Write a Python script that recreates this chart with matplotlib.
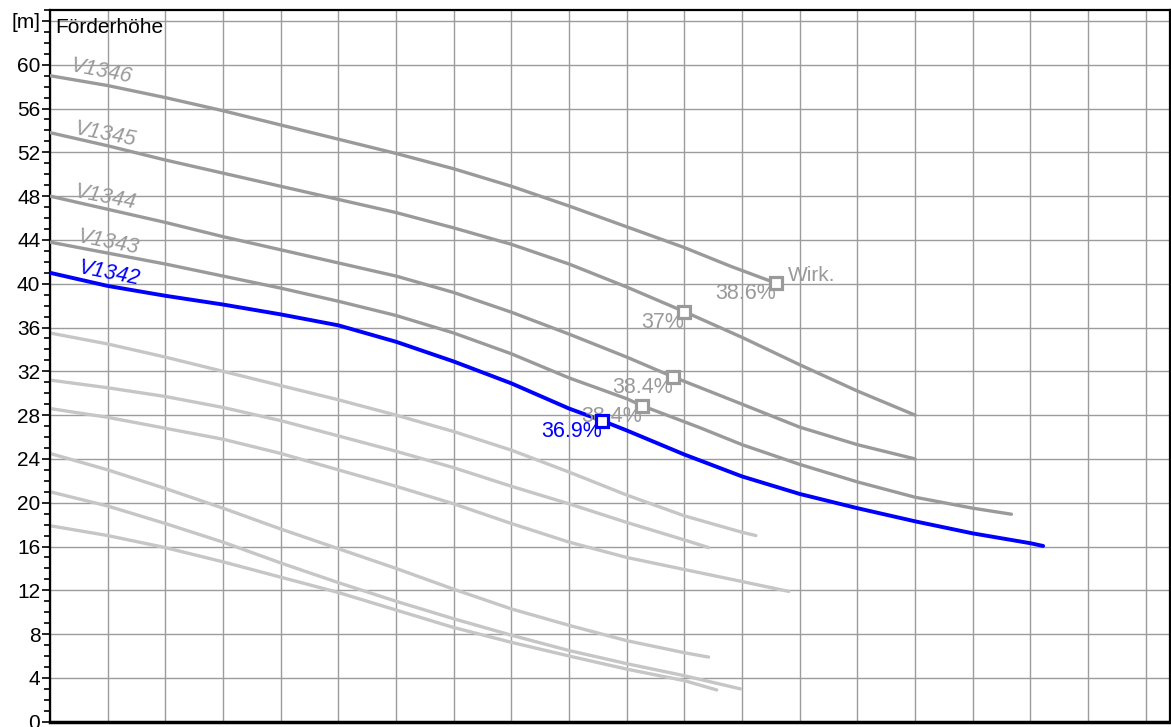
import matplotlib
matplotlib.use("Agg")
import matplotlib.pyplot as plt
from matplotlib.ticker import MultipleLocator

plt.rcParams["font.family"] = ["Liberation Sans", "DejaVu Sans"]

# Pump curves (x in grid units, head in m)
V1346_X = [0, 1, 2, 3, 4, 5, 6, 7, 8, 9, 10, 11, 11.8, 12.59]
V1346_Y = [59.0, 58.1, 57.0, 55.8, 54.5, 53.2, 51.9, 50.5, 48.9, 47.1, 45.2, 43.3, 41.6, 40.05]

V1345_X = [0, 1, 2, 3, 4, 5, 6, 7, 8, 9, 10, 11, 12, 13, 14, 15]
V1345_Y = [53.8, 52.6, 51.3, 50.1, 48.9, 47.7, 46.5, 45.1, 43.6, 41.8, 39.7, 37.45, 35.1, 32.6, 30.2, 28.0]

V1344_X = [0, 1, 2, 3, 4, 5, 6, 7, 8, 9, 10, 10.8, 12, 13, 14, 15]
V1344_Y = [48.0, 46.8, 45.6, 44.3, 43.1, 41.9, 40.7, 39.2, 37.4, 35.4, 33.3, 31.5, 29.0, 26.9, 25.3, 24.0]

V1343_X = [0, 1, 2, 3, 4, 5, 6, 7, 8, 9, 10, 10.27, 11.27, 12, 13, 14, 15, 16, 16.67]
V1343_Y = [43.8, 42.8, 41.8, 40.7, 39.6, 38.4, 37.1, 35.5, 33.6, 31.4, 29.5, 28.85, 26.85, 25.3, 23.5, 21.9, 20.5, 19.5, 18.95]

V1342_X = [0, 1, 2, 3, 4, 5, 6, 7, 8, 9, 9.57, 10, 11, 12, 13, 14, 15, 16, 17, 17.22]
V1342_Y = [41.0, 39.8, 38.9, 38.1, 37.2, 36.2, 34.7, 32.9, 30.9, 28.6, 27.5, 26.6, 24.4, 22.4, 20.8, 19.5, 18.3, 17.2, 16.3, 16.05]

# Other (inactive) curves
L1_X = [0, 1, 2, 3, 4, 5, 6, 7, 8, 9, 10, 11, 12, 12.24]
L1_Y = [35.5, 34.5, 33.3, 32.0, 30.7, 29.4, 28.0, 26.5, 24.8, 22.8, 20.7, 18.8, 17.3, 17.0]
L2_X = [0, 1, 2, 3, 4, 5, 6, 7, 8, 9, 10, 11, 11.42]
L2_Y = [31.2, 30.5, 29.7, 28.7, 27.5, 26.1, 24.7, 23.2, 21.5, 19.9, 18.2, 16.6, 15.9]
L3_X = [0, 1, 2, 3, 4, 5, 6, 7, 8, 9, 10, 11, 12, 12.81]
L3_Y = [28.6, 27.8, 26.8, 25.8, 24.5, 23.0, 21.5, 19.9, 18.1, 16.4, 15.0, 13.9, 12.8, 11.9]
L4_X = [0, 1, 2, 3, 4, 5, 6, 7, 8, 9, 10, 11, 11.42]
L4_Y = [24.5, 23.0, 21.3, 19.5, 17.6, 15.8, 14.0, 12.1, 10.3, 8.8, 7.4, 6.3, 5.9]
L5_X = [0, 1, 2, 3, 4, 5, 6, 7, 8, 9, 10, 11, 11.97]
L5_Y = [21.0, 19.7, 18.1, 16.4, 14.5, 12.7, 11.0, 9.4, 7.9, 6.5, 5.3, 4.2, 3.0]
L6_X = [0, 1, 2, 3, 4, 5, 6, 7, 8, 9, 10, 11, 11.56]
L6_Y = [17.9, 17.0, 15.9, 14.6, 13.2, 11.8, 10.2, 8.6, 7.25, 6.0, 4.8, 3.75, 2.9]

# Duty points and efficiencies
DUTY_X = [12.59, 11.0, 10.8, 10.27, 9.57]
DUTY_Y = [40.05, 37.4, 31.5, 28.83, 27.5]
DUTY_EFF = ["38.6%", "37%", "38.4%", "38.4%", "36.9%"]

CURVE_NAMES = ["V1346", "V1345", "V1344", "V1343", "V1342"]
NAME_X = [0.34, 0.40, 0.40, 0.45, 0.47]
NAME_Y = [59.4, 53.7, 47.95, 43.8, 40.95]

DARK = "#9a9a9a"
LIGHT = "#c6c6c6"
BLUE = "#0000ff"
GRID = "#9c9c9c"

fig = plt.figure(figsize=(11.71, 7.27), dpi=100)
ax = fig.add_axes([50 / 1171, 5.3 / 727, 1120 / 1171, 711.7 / 727])
ax.set_xlim(0, 19.42)
ax.set_ylim(0, 65.0)

# grid
ax.xaxis.set_major_locator(MultipleLocator(1))
ax.set_yticks(list(range(0, 65, 4)))
ax.set_yticklabels([str(v) for v in range(0, 61, 4)] + ["[m]"])
ax.yaxis.set_minor_locator(MultipleLocator(1))
ax.grid(True, which="major", color=GRID, linewidth=1.0)
ax.set_axisbelow(True)
ax.tick_params(axis="x", which="both", length=0, labelbottom=False)
ax.tick_params(axis="y", which="major", length=6, width=1.2, labelsize=15, pad=1)
ax.tick_params(axis="y", which="minor", length=4, width=1.2)
for side in ["left", "top", "right"]:
    ax.spines[side].set_linewidth(1.6)
ax.spines["bottom"].set_linewidth(2.5)

lkw = dict(linewidth=2.4, solid_capstyle="round", solid_joinstyle="round", zorder=2)
for xs, ys in [(L1_X, L1_Y), (L2_X, L2_Y), (L3_X, L3_Y),
               (L4_X, L4_Y), (L5_X, L5_Y), (L6_X, L6_Y)]:
    ax.plot(xs, ys, color=LIGHT, **lkw)

curves = [(V1346_X, V1346_Y), (V1345_X, V1345_Y), (V1344_X, V1344_Y),
          (V1343_X, V1343_Y), (V1342_X, V1342_Y)]
for i, (xs, ys) in enumerate(curves):
    blue = i == 4
    ax.plot(xs, ys, color=BLUE if blue else DARK,
            linewidth=2.8 if blue else 2.4, solid_capstyle="round",
            solid_joinstyle="round", zorder=4 if blue else 3)
    ax.text(NAME_X[i], NAME_Y[i], CURVE_NAMES[i], color=BLUE if blue else DARK,
            fontsize=15.5, style="italic", rotation=-11, rotation_mode="anchor",
            ha="left", va="baseline", zorder=6)

for i in range(len(DUTY_X)):
    blue = i == 4
    c = BLUE if blue else DARK
    ax.annotate(DUTY_EFF[i], (DUTY_X[i], DUTY_Y[i]), xytext=(0, 0),
                textcoords="offset points", ha="right", va="top",
                color=c, fontsize=15.5, zorder=7 if blue else 5)
    ax.plot(DUTY_X[i], DUTY_Y[i], marker="s", markersize=8.5,
            markerfacecolor="white", markeredgecolor=c, markeredgewidth=2.3,
            linestyle="none", zorder=8 if blue else 6)

ax.annotate("Wirk.", (DUTY_X[0], DUTY_Y[0]), xytext=(8.6, 1.9),
            textcoords="offset points", ha="left", va="baseline",
            color=DARK, fontsize=15, zorder=6)

ax.text(0.087, 62.9, "Förderhöhe", fontsize=15, color="black",
        ha="left", va="baseline", zorder=6)

fig.savefig("out.png", dpi=100)
